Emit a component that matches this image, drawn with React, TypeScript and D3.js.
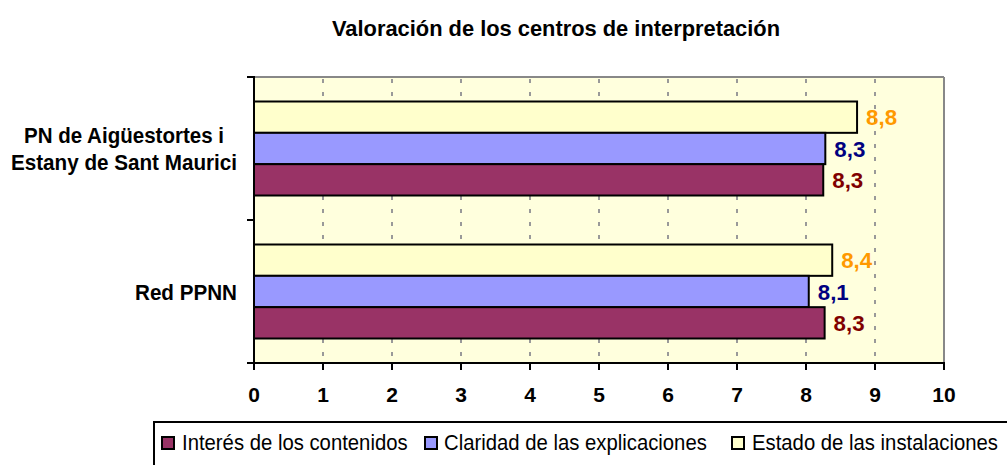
import React from "react";
import * as d3 from "d3";

const title = "Valoración de los centros de interpretación";
const categories = ["PN de Aigüestortes i\nEstany de Sant Maurici", "Red PPNN"];
const seriesNames = ["Interés de los contenidos", "Claridad de las explicaciones", "Estado de las instalaciones"];
const interes = [8.25, 8.27];
const claridad = [8.28, 8.04];
const estado = [8.74, 8.38];
const valueLabels = [["8,3", "8,3"], ["8,3", "8,1"], ["8,8", "8,4"]];
const xTicks = [0, 1, 2, 3, 4, 5, 6, 7, 8, 9, 10];

const fills = ["#993366", "#9999FF", "#FFFFCC"];
const labelColors = ["#800000", "#000080", "#FF9900"];
const FONT = "'Liberation Sans', Arial, Helvetica, sans-serif";

export default function App() {
  const W = 1007, H = 465;
  const left = 254, right = 944, top = 77, bottom = 363;
  const x = d3.scaleLinear().domain([0, 10]).range([left, right]);
  const y0 = d3.scaleBand<string>().domain(categories).range([top, bottom]).padding(0);
  const bw = y0.bandwidth();
  // series drawn top to bottom: Estado, Claridad, Interés
  const order = [2, 1, 0];
  const y1 = d3.scaleBand<number>().domain(order).range([24.5, bw - 24.5]).padding(0);
  const values = [interes, claridad, estado];

  const gridTicks = xTicks.filter((t) => t > 0 && t < 10);
  const yTickPos = [top, top + bw, bottom];

  const legendItems = [
    { sq: 162, tx: 182 },
    { sq: 425, tx: 444 },
    { sq: 732, tx: 752 },
  ];
  const catLineLens = [200, 226];

  return (
    <svg width={W} height={H} style={{ position: "absolute", left: 0, top: 0, display: "block" }} fontFamily={FONT}>
      <rect x={0} y={0} width={W} height={H} fill="#fff" />
      <text x={556} y={36} textAnchor="middle" fontSize={21.5} fontWeight="bold" textLength={448} lengthAdjust="spacingAndGlyphs">
        {title}
      </text>

      {/* plot area */}
      <rect x={left} y={top} width={right - left} height={bottom - top} fill="#FFFFDD" />
      {gridTicks.map((t) => (
        <line key={t} x1={x(t)} x2={x(t)} y1={top} y2={bottom} stroke="#999" strokeWidth={2} strokeDasharray="4,9" strokeDashoffset={-2} />
      ))}
      <line x1={left} x2={right} y1={top} y2={top} stroke="#888" strokeWidth={2} />
      <line x1={right} x2={right} y1={top} y2={bottom} stroke="#888" strokeWidth={2} />

      {/* bars */}
      {categories.map((c, ci) => (
        <g key={c}>
          {order.map((s) => {
            const by = (y0(c) as number) + (y1(s) as number);
            const h = y1.bandwidth();
            const v = values[s][ci];
            return (
              <g key={s}>
                <rect x={x(0)} y={by} width={x(v) - x(0)} height={h} fill={fills[s]} stroke="#000" strokeWidth={2} />
                <text x={x(v) + 9} y={by + h / 2 + 8} fontSize={22} fontWeight="bold" fill={labelColors[s]} textLength={31} lengthAdjust="spacingAndGlyphs">
                  {valueLabels[s][ci]}
                </text>
              </g>
            );
          })}
        </g>
      ))}

      {/* axes */}
      <line x1={left} x2={left} y1={top - 1} y2={bottom + 1} stroke="#000" strokeWidth={2} />
      {yTickPos.map((p, i) => (
        <line key={i} x1={left - 7} x2={left} y1={p} y2={p} stroke="#000" strokeWidth={2} />
      ))}
      <line x1={left - 7} x2={right + 1} y1={bottom} y2={bottom} stroke="#000" strokeWidth={2} />
      {xTicks.map((t) => (
        <g key={t}>
          <line x1={x(t)} x2={x(t)} y1={bottom} y2={bottom + 7} stroke="#000" strokeWidth={2} />
          <text x={x(t)} y={402} textAnchor="middle" fontSize={21} fontWeight="bold">{t}</text>
        </g>
      ))}

      {/* category labels */}
      {categories.map((c) => {
        const lines = c.split("\n");
        const cy = (y0(c) as number) + bw / 2;
        if (lines.length === 1) {
          return (
            <text key={c} x={237} y={cy + 8} textAnchor="end" fontSize={22} fontWeight="bold" textLength={102} lengthAdjust="spacingAndGlyphs">{c}</text>
          );
        }
        return (
          <g key={c}>
            {lines.map((l, i) => (
              <text key={i} x={124} y={cy + (i - (lines.length - 1) / 2) * 27 + 8} textAnchor="middle" fontSize={22} fontWeight="bold" textLength={catLineLens[i]} lengthAdjust="spacingAndGlyphs">{l}</text>
            ))}
          </g>
        );
      })}

      {/* legend */}
      <rect x={154} y={422} width={900} height={80} fill="#fff" stroke="#000" strokeWidth={2} />
      {seriesNames.map((n, i) => (
        <g key={n}>
          <rect x={legendItems[i].sq} y={437} width={12} height={12} fill={fills[i]} stroke="#000" strokeWidth={2} />
          <text transform={`translate(${legendItems[i].tx},450) scale(1,1.07)`} fontSize={20.3}>{n}</text>
        </g>
      ))}
    </svg>
  );
}
